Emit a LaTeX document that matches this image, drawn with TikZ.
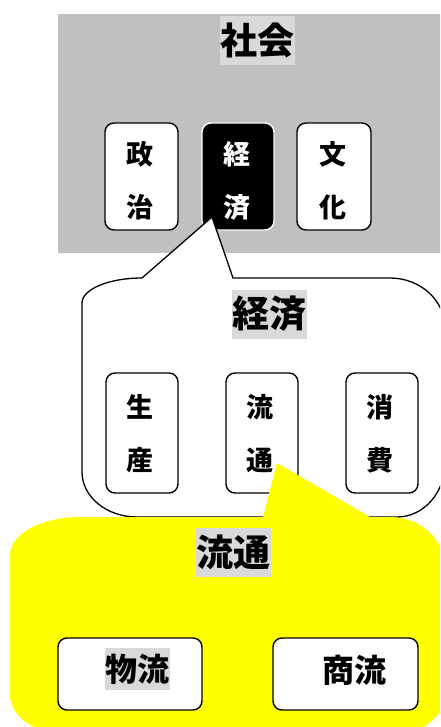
\documentclass[tikz,border=0pt]{standalone}
\usepackage{fontspec}
\newfontfamily\jp{Noto Sans CJK JP}
\definecolor{bggray}{HTML}{C0C0C0}
\definecolor{hl}{HTML}{D9D9D9}
\definecolor{yel}{HTML}{FFFF00}
\begin{document}
\begin{tikzpicture}[x=1pt,y=1pt,
  cardbox/.style={draw=black, line width=1.4pt, fill=white, rounded corners=9pt, inner sep=0pt},
  darkbox/.style={draw=white, line width=1.4pt, fill=black, rounded corners=9pt, inner sep=0pt},
  vtxt/.style={font=\jp\bfseries\fontsize{27}{53}\selectfont, align=center, inner sep=0pt},
  title/.style={fill=hl, font=\jp\bfseries\fontsize{37}{37}\selectfont, minimum width=75pt, minimum height=49pt, inner sep=0pt},
  htxt/.style={font=\jp\bfseries\fontsize{32}{32}\selectfont, inner sep=0pt},
  callout/.style={draw=black, line width=1.3pt, fill=white},
]
\clip (0,0) rectangle (440,-727);
% society background
\fill[bggray] (58,-14) rectangle (445,-253);
\node[title] (shakai) at (257.5,-40.5) {社会};
\node[cardbox, minimum width=73pt, minimum height=107pt] (seiji) at (141.5,-176.5) {};
\node[vtxt] (seijit) at (140,-181) {政\\治};
\node[darkbox, minimum width=72pt, minimum height=107pt] (keizai) at (238,-176.5) {};
\node[vtxt, text=white] (keizait) at (237,-181) {経\\済};
\node[cardbox, minimum width=74pt, minimum height=107pt] (bunka) at (334,-176.5) {};
\node[vtxt] (bunkat) at (333,-181) {文\\化};
% economy callout
\path[callout] (82,-303) arc[start angle=180,end angle=90,x radius=60,y radius=25]
  -- (212,-217) -- (233,-278) -- (390,-278)
  arc[start angle=90,end angle=0,x radius=55,y radius=50]
  -- (445,-463) arc[start angle=0,end angle=-90,x radius=48,y radius=54]
  -- (137,-517) arc[start angle=270,end angle=180,x radius=55,y radius=45]
  -- cycle;
\node[title] (keizaititle) at (269.5,-314) {経済};
\node[cardbox, minimum width=72pt, minimum height=120pt] (seisan) at (142,-433) {};
\node[vtxt] (seisant) at (140,-433.5) {生\\産};
\node[cardbox, minimum width=72pt, minimum height=120pt] (ryutsu) at (262,-433) {};
\node[vtxt] (ryutsut) at (260,-433.5) {流\\通};
\node[cardbox, minimum width=72pt, minimum height=120pt] (shohi) at (382,-433) {};
\node[vtxt] (shohit) at (380,-433.5) {消\\費};
% distribution callout
\fill[yel] (10,-555) arc[start angle=180,end angle=90,x radius=70,y radius=38]
  -- (263,-517) -- (277,-463) -- (370,-517) -- (390,-517)
  arc[start angle=90,end angle=0,x radius=55,y radius=50]
  -- (445,-695) arc[start angle=0,end angle=-90,x radius=55,y radius=40]
  -- (70,-735) arc[start angle=270,end angle=180,x radius=60,y radius=40]
  -- cycle;
\node[title] (ryutsutitle) at (233.5,-552.5) {流通};
\node[cardbox, minimum width=144pt, minimum height=72pt] (butsuryu) at (130,-674) {};
\node[htxt, fill=hl, minimum width=65pt, minimum height=42pt] (butsuryut) at (137.5,-669) {物流};
\node[cardbox, minimum width=145pt, minimum height=72pt] (shoryu) at (345.5,-674) {};
\node[htxt] (shoryut) at (354.5,-670) {商流};
\end{tikzpicture}
\end{document}
